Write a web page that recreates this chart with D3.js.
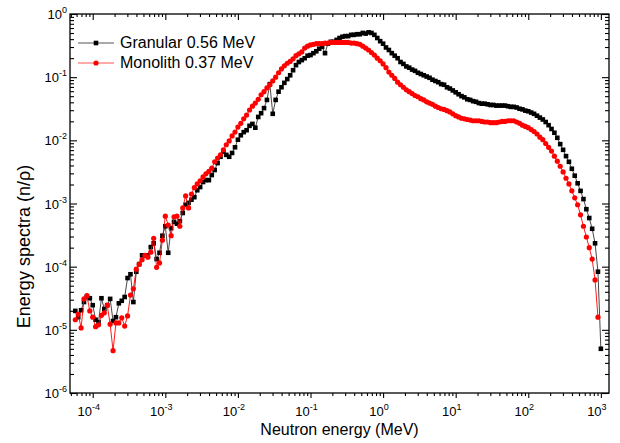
<!DOCTYPE html>
<html>
<head>
<meta charset="utf-8">
<script src="https://cdn.jsdelivr.net/npm/d3@7"></script>
<style>
  body { margin: 0; background: #fff; }
  svg { font-family: Arial, "Liberation Sans", sans-serif; }
</style>
</head>
<body>
<div id="chart"></div>
<script>
// Energy grid: log10(E/MeV), 25 bins per decade from -4.24 to 3.0
const logEStart = -4.24;
const logEStep = 0.04;

// log10 of spectrum values
const granularLog10 = [
  -4.70, -4.80, -4.69, -4.56, -4.48, -4.50, -4.61, -4.84, -4.88, -4.50,
  -4.67, -4.61, -4.51, -4.86, -4.80, -4.58, -4.54, -4.48, -4.18, -4.12,
  -4.56, -4.08, -3.96, -3.82, -3.82, -3.82, -3.69, -3.63, -3.88, -3.78,
  -3.51, -3.36, -3.78, -3.39, -3.29, -3.32, -3.28, -3.15, -3.02, -2.99,
  -2.94, -2.90, -2.79, -2.74, -2.66, -2.63, -2.63, -2.55, -2.47, -2.36,
  -2.26, -2.18, -2.23, -2.26, -2.20, -2.11, -1.99, -1.92, -1.87, -1.84,
  -1.77, -1.74, -1.80, -1.63, -1.57, -1.49, -1.36, -1.11, -1.58, -1.36,
  -1.23, -1.16, -1.09, -1.03, -0.97, -0.89, -0.81, -0.76, -0.73, -0.70,
  -0.66, -0.65, -0.62, -0.59, -0.55, -0.52, -0.62, -0.47, -0.44, -0.44,
  -0.41, -0.38, -0.36, -0.35, -0.35, -0.33, -0.33, -0.32, -0.32, -0.30,
  -0.31, -0.29, -0.30, -0.33, -0.38, -0.43, -0.47, -0.53, -0.57, -0.62,
  -0.66, -0.70, -0.76, -0.79, -0.83, -0.85, -0.88, -0.90, -0.93, -0.95,
  -0.97, -0.99, -1.01, -1.04, -1.06, -1.08, -1.11, -1.12, -1.16, -1.18,
  -1.21, -1.24, -1.27, -1.30, -1.32, -1.35, -1.36, -1.38, -1.39, -1.41,
  -1.42, -1.42, -1.43, -1.44, -1.44, -1.45, -1.45, -1.45, -1.45, -1.46,
  -1.47, -1.47, -1.48, -1.50, -1.51, -1.53, -1.54, -1.56, -1.58, -1.61,
  -1.64, -1.67, -1.71, -1.76, -1.82, -1.88, -1.96, -2.06, -2.15, -2.25,
  -2.34, -2.45, -2.56, -2.68, -2.80, -2.93, -3.09, -3.23, -3.40, -3.63,
  -4.08, -5.30
];

const monolithLog10 = [
  -4.84, -4.75, -4.97, -4.51, -4.46, -4.70, -4.80, -4.95, -4.92, -4.77,
  -4.73, -4.61, -4.91, -5.33, -4.89, -4.89, -4.81, -4.94, -4.78, -4.45,
  -4.35, -4.04, -3.96, -3.89, -3.82, -3.85, -3.77, -3.55, -4.01, -3.94,
  -3.58, -3.20, -3.34, -3.51, -3.21, -3.20, -3.36, -3.07, -2.88, -3.07,
  -2.85, -2.75, -2.69, -2.64, -2.58, -2.53, -2.49, -2.44, -2.34, -2.28,
  -2.23, -2.15, -2.07, -2.01, -1.93, -1.87, -1.79, -1.73, -1.66, -1.60,
  -1.52, -1.46, -1.41, -1.35, -1.28, -1.23, -1.17, -1.12, -1.06, -1.00,
  -0.93, -0.87, -0.82, -0.78, -0.75, -0.71, -0.66, -0.63, -0.60, -0.54,
  -0.51, -0.49, -0.48, -0.47, -0.47, -0.47, -0.46, -0.46, -0.45, -0.45,
  -0.45, -0.45, -0.45, -0.45, -0.45, -0.46, -0.46, -0.47, -0.48, -0.51,
  -0.54, -0.57, -0.61, -0.65, -0.70, -0.74, -0.79, -0.85, -0.92, -0.97,
  -1.02, -1.08, -1.12, -1.16, -1.20, -1.23, -1.26, -1.29, -1.31, -1.34,
  -1.36, -1.39, -1.41, -1.43, -1.46, -1.48, -1.50, -1.51, -1.53, -1.55,
  -1.58, -1.61, -1.63, -1.65, -1.66, -1.67, -1.68, -1.69, -1.69, -1.69,
  -1.70, -1.71, -1.71, -1.72, -1.72, -1.72, -1.71, -1.70, -1.70, -1.69,
  -1.69, -1.69, -1.71, -1.73, -1.76, -1.78, -1.80, -1.83, -1.86, -1.90,
  -1.95, -1.99, -2.05, -2.11, -2.17, -2.25, -2.33, -2.41, -2.50, -2.60,
  -2.69, -2.80, -2.91, -3.02, -3.18, -3.36, -3.53, -3.70, -3.88, -4.21,
  -4.80
];

const seriesNames = ["Granular 0.56 MeV", "Monolith 0.37 MeV"];
const xTickExps = [-4, -3, -2, -1, 0, 1, 2, 3];
const yTickExps = [0, -1, -2, -3, -4, -5, -6];

const toPoints = arr => arr.map((v, i) => ({ e: Math.pow(10, logEStart + i * logEStep), v: Math.pow(10, v) }));
const granular = toPoints(granularLog10);
const monolith = toPoints(monolithLog10);

// Format container
const width = 620, height = 443;
const margin = { top: 14, right: 11, bottom: 50, left: 70 };

const x = d3.scaleLog()
  .domain([Math.pow(10, -4.313), Math.pow(10, 3.112)])
  .range([margin.left, width - margin.right]);

const y = d3.scaleLog()
  .domain([1e-6, 1])
  .range([height - margin.bottom, margin.top]);

const svg = d3.select("#chart").append("svg")
  .attr("width", width)
  .attr("height", height);

// minor ticks: 2..9 of each decade inside the domain
function minorTicks(scale, lo, hi) {
  const out = [];
  const [d0, d1] = scale.domain();
  for (let k = lo; k <= hi; k++) {
    for (let m = 2; m <= 9; m++) {
      const v = m * Math.pow(10, k);
      if (v > d0 && v < d1) out.push(v);
    }
  }
  return out;
}
const xMajors = xTickExps.map(k => Math.pow(10, k));
const yMajors = yTickExps.map(k => Math.pow(10, k));
const xMinors = minorTicks(x, -5, 3);
const yMinors = minorTicks(y, -6, -1);

const plotBottom = height - margin.bottom;
const plotRight = width - margin.right;

// frame
svg.append("rect")
  .attr("x", margin.left).attr("y", margin.top)
  .attr("width", plotRight - margin.left)
  .attr("height", plotBottom - margin.top)
  .attr("fill", "none").attr("stroke", "#000").attr("stroke-width", 1.3);

function drawTicks(g, axis) {
  g.call(axis).call(s => s.select(".domain").remove())
    .selectAll(".tick line").attr("stroke", "#000").attr("stroke-width", 1.1);
}

// bottom axis (ticks outward)
drawTicks(svg.append("g").attr("transform", `translate(0,${plotBottom})`),
  d3.axisBottom(x).tickValues(xMajors).tickSize(5).tickFormat(""));
drawTicks(svg.append("g").attr("transform", `translate(0,${plotBottom})`),
  d3.axisBottom(x).tickValues(xMinors).tickSize(3).tickFormat(""));
// top axis (inside)
drawTicks(svg.append("g").attr("transform", `translate(0,${margin.top})`),
  d3.axisBottom(x).tickValues(xMajors).tickSize(6).tickFormat(""));
drawTicks(svg.append("g").attr("transform", `translate(0,${margin.top})`),
  d3.axisBottom(x).tickValues(xMinors).tickSize(3).tickFormat(""));
// left axis (inside)
drawTicks(svg.append("g").attr("transform", `translate(${margin.left},0)`),
  d3.axisRight(y).tickValues(yMajors).tickSize(7).tickFormat(""));
drawTicks(svg.append("g").attr("transform", `translate(${margin.left},0)`),
  d3.axisRight(y).tickValues(yMinors).tickSize(4).tickFormat(""));
// right axis (inside)
drawTicks(svg.append("g").attr("transform", `translate(${plotRight},0)`),
  d3.axisLeft(y).tickValues(yMajors).tickSize(7).tickFormat(""));
drawTicks(svg.append("g").attr("transform", `translate(${plotRight},0)`),
  d3.axisLeft(y).tickValues(yMinors).tickSize(4).tickFormat(""));

// tick labels 10^k
svg.append("g").selectAll("text")
  .data(xTickExps)
  .join("text")
  .attr("x", d => x(Math.pow(10, d)) - 4)
  .attr("y", plotBottom + 23)
  .attr("text-anchor", "middle")
  .attr("font-size", 13)
  .each(function (d) {
    const t = d3.select(this);
    t.append("tspan").text("10");
    t.append("tspan").attr("font-size", 9).attr("dy", -6).text(d);
  });

svg.append("g").selectAll("text")
  .data(yTickExps)
  .join("text")
  .attr("x", margin.left - 3)
  .attr("y", d => y(Math.pow(10, d)) + 5)
  .attr("text-anchor", "end")
  .attr("font-size", 13)
  .each(function (d) {
    const t = d3.select(this);
    t.append("tspan").text("10");
    t.append("tspan").attr("font-size", 9).attr("dy", -6).text(d);
  });

// axis titles
svg.append("text")
  .attr("x", (margin.left + plotRight) / 2)
  .attr("y", height - 8)
  .attr("text-anchor", "middle")
  .attr("font-size", 16)
  .text("Neutron energy (MeV)");

svg.append("text")
  .attr("transform", `translate(30,${(margin.top + plotBottom) / 2 + 43}) rotate(-90)`)
  .attr("text-anchor", "middle")
  .attr("font-size", 18)
  .text("Energy spectra (n/ρ)");

// lines and markers
const line = d3.line().x(d => x(d.e)).y(d => y(d.v));

svg.append("path").datum(granular)
  .attr("d", line).attr("fill", "none").attr("stroke", "#333").attr("stroke-width", 0.9);
svg.append("g").selectAll("rect")
  .data(granular)
  .join("rect")
  .attr("x", d => x(d.e) - 2.3)
  .attr("y", d => y(d.v) - 2.3)
  .attr("width", 4.6).attr("height", 4.6)
  .attr("fill", "#000");

svg.append("path").datum(monolith)
  .attr("d", line).attr("fill", "none").attr("stroke", "#f00").attr("stroke-width", 0.9);
svg.append("g").selectAll("circle")
  .data(monolith)
  .join("circle")
  .attr("cx", d => x(d.e))
  .attr("cy", d => y(d.v))
  .attr("r", 2.6)
  .attr("fill", "#f00");

// legend
const legend = svg.append("g");
const legendRows = [
  { name: seriesNames[0], color: "#000", line: "#555", shape: "square" },
  { name: seriesNames[1], color: "#f00", line: "#f55", shape: "circle" }
];
legendRows.forEach((r, i) => {
  const ly = 43 + i * 20;
  legend.append("line")
    .attr("x1", 78).attr("x2", 114).attr("y1", ly).attr("y2", ly)
    .attr("stroke", r.line).attr("stroke-width", 1);
  if (r.shape === "square") {
    legend.append("rect").attr("x", 96 - 2.3).attr("y", ly - 2.3)
      .attr("width", 4.6).attr("height", 4.6).attr("fill", r.color);
  } else {
    legend.append("circle").attr("cx", 96).attr("cy", ly).attr("r", 2.6).attr("fill", r.color);
  }
  legend.append("text")
    .attr("x", 120).attr("y", ly + 5)
    .attr("font-size", 16)
    .text(r.name);
});
</script>
</body>
</html>
